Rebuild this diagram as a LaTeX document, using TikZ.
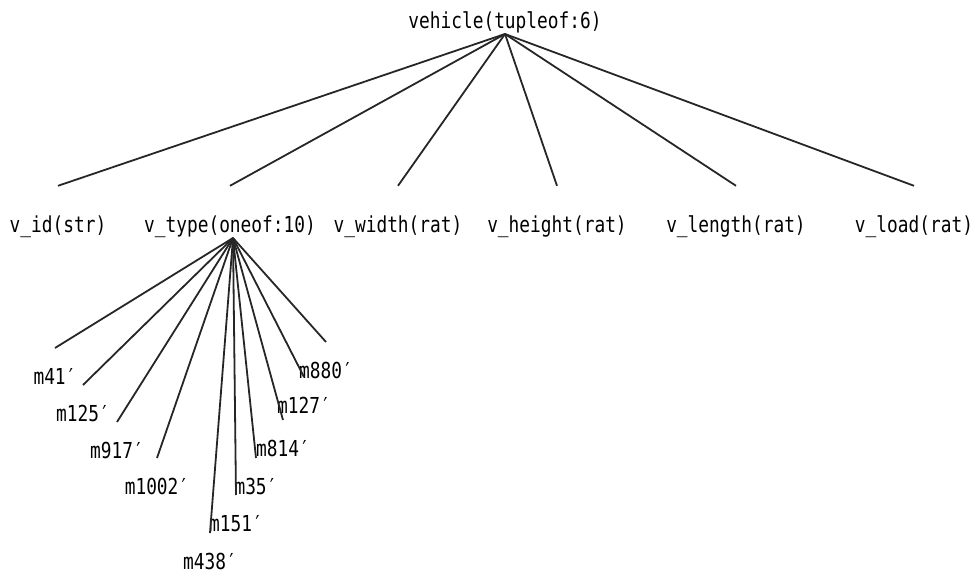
\documentclass[tikz,border=0pt]{standalone}
\usepackage{fontspec}
\usepackage{tikz}
\newfontfamily\lpfont[FakeStretch=0.81]{DejaVu Sans Mono}
\tikzstyle{nd1}=[font=\lpfont\fontsize{11pt}{13pt}\selectfont, inner xsep=0pt, inner ysep=1pt, text height=8.4pt, text depth=2.6pt]
\tikzstyle{nd2}=[nd1, inner ysep=15pt]
\tikzstyle{nd3}=[nd1, anchor=north, text height=8pt, text depth=2pt, inner ysep=10pt]

\begin{document}
\begin{tikzpicture}[x=.5pt, y=-.5pt]
  \tikzstyle{ed}=[draw=black!85, line width=.9pt];
  \useasboundingbox (0,0) rectangle (976,577);
  % top
  \node[nd1, anchor=base] (vehicle) at (505,29) {vehicle(tupleof:6)};
  \coordinate (vehicle-hub) at (505,34);
  % attributes
  \node[nd2, anchor=base] (v_id) at (58,233) {v\_id(str)};
  \node[nd2, anchor=base] (v_type) at (230,233) {v\_type(oneof:10)};
  \node[nd2, anchor=base] (v_width) at (398,233) {v\_width(rat)};
  \node[nd2, anchor=base] (v_height) at (557,233) {v\_height(rat)};
  \node[nd2, anchor=base] (v_length) at (736,233) {v\_length(rat)};
  \node[nd2, anchor=base] (v_load) at (914,233) {v\_load(rat)};
  \coordinate (v_type-hub) at (233,238);
  \draw[ed] (vehicle-hub) -- (v_id.north);
  \draw[ed] (vehicle-hub) -- (v_type.north);
  \draw[ed] (vehicle-hub) -- (v_width.north);
  \draw[ed] (vehicle-hub) -- (v_height.north);
  \draw[ed] (vehicle-hub) -- (v_length.north);
  \draw[ed] (vehicle-hub) -- (v_load.north);
  % values of v_type
  \node[nd3] (m41) at (55,348) {m41′};
  \node[nd3] (m125) at (83,385) {m125′};
  \node[nd3] (m917) at (117,422) {m917′};
  \node[nd3] (m1002) at (157,458) {m1002′};
  \node[nd3] (m438) at (210,533) {m438′};
  \node[nd3] (m151) at (236,495) {m151′};
  \node[nd3] (m35) at (256,458) {m35′};
  \node[nd3] (m814) at (283,420) {m814′};
  \node[nd3] (m127) at (304,377) {m127′};
  \node[nd3] (m880) at (326,342) {m880′};
  \draw[ed] (v_type-hub) -- (m41.north);
  \draw[ed] (v_type-hub) -- (m125.north);
  \draw[ed] (v_type-hub) -- (m917.north);
  \draw[ed] (v_type-hub) -- (m1002.north);
  \draw[ed] (v_type-hub) -- (m438.north);
  \draw[ed] (v_type-hub) -- (m151.north);
  \draw[ed] (v_type-hub) -- (m35.north);
  \draw[ed] (v_type-hub) -- (m814.north);
  \draw[ed] (v_type-hub) -- (m127.north);
  \draw[ed] (v_type-hub) -- (m880.north);
\end{tikzpicture}
\end{document}
